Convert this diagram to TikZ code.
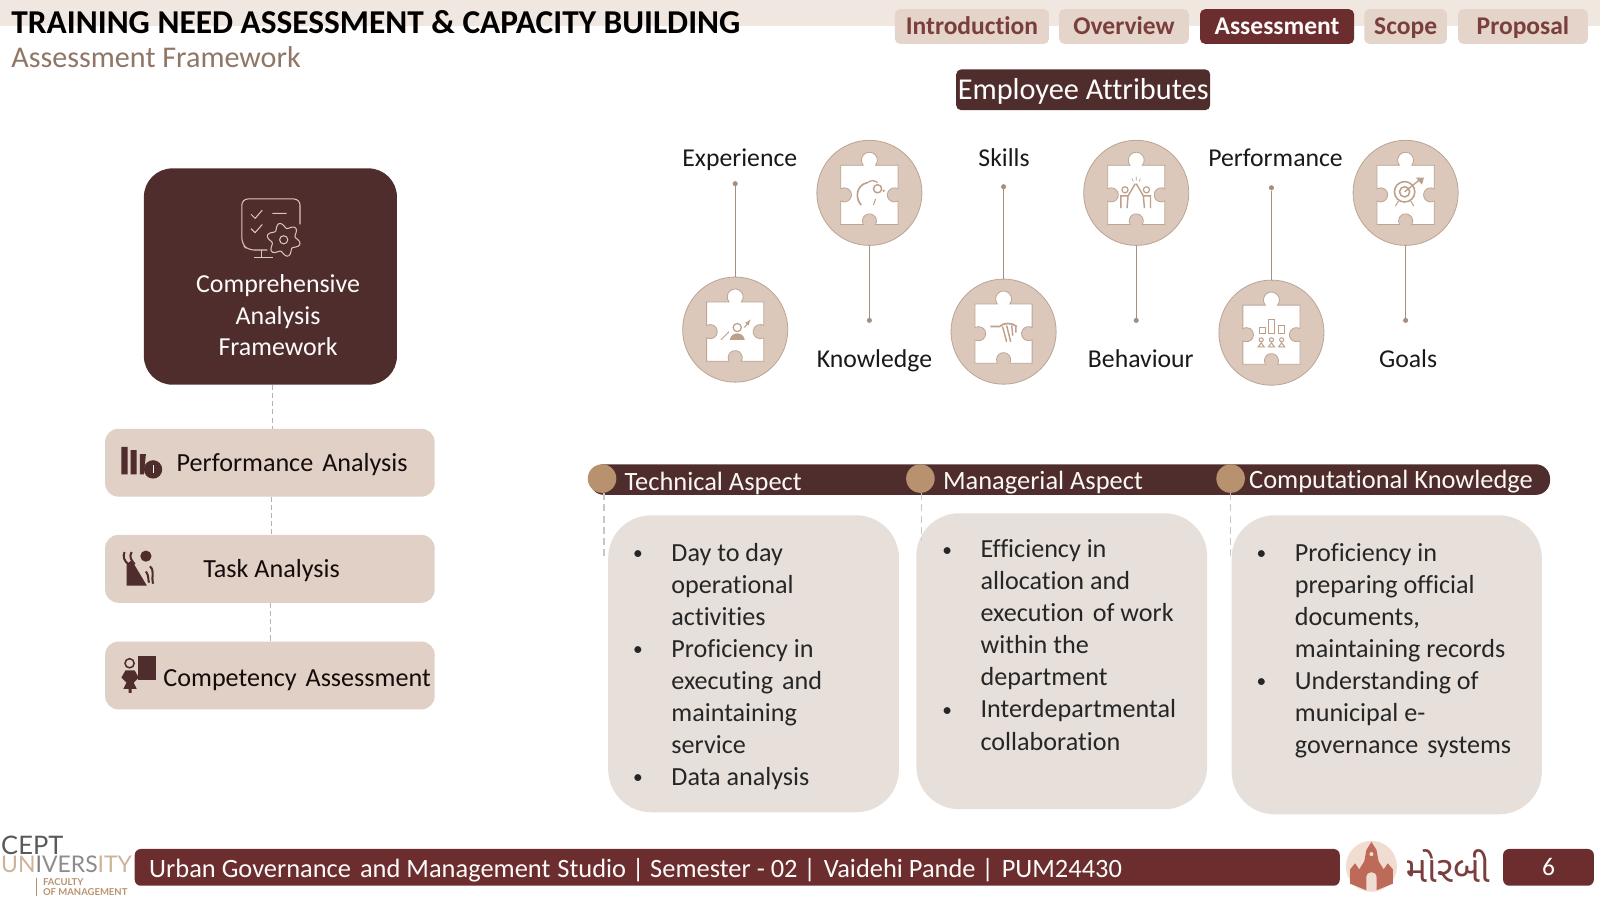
\documentclass[tikz,border=0pt]{standalone}
\usepackage{fontspec}
\setmainfont{Carlito}[Ligatures=NoCommon]
\newfontfamily\gujfont[Script=Gujarati]{Noto Sans Gujarati UI}
\newfontfamily\logofont{Lato}
\usetikzlibrary{shapes,arrows,positioning,fit,backgrounds}

\definecolor{darkbrown}{HTML}{4F2D2D}
\definecolor{maroon}{HTML}{6C2D2E}
\definecolor{tabfill}{HTML}{E4D4C9}
\definecolor{tabtext}{HTML}{7A3F3C}
\definecolor{beige}{HTML}{E1D0C5}
\definecolor{cardfill}{HTML}{E6DFDA}
\definecolor{discfill}{HTML}{DCC8BA}
\definecolor{discline}{HTML}{BBA593}
\definecolor{tan}{HTML}{B8926F}
\definecolor{stemcol}{HTML}{A68F7E}
\definecolor{iconcol}{HTML}{BE9F8A}
\definecolor{subcol}{HTML}{8F7666}
\definecolor{morbidisc}{HTML}{F1DCD2}
\definecolor{palace}{HTML}{BD6A58}

\newcommand{\txt}[1]{\fontsize{#1}{#1}\selectfont}
\newcommand{\bul}{\llap{\raisebox{1.5pt}{\txt{19}•}\hspace{28pt}}}

\tikzset{
    puzzle/.pic={
        \draw[fill=white, draw=discline, line width=0.8pt]
            (-28,-27) -- (-6,-27) arc[start angle=140, end angle=400, radius=7.8]
            -- (28,-27) -- (28,-4) arc[start angle=300, end angle=60, radius=6.95]
            -- (28,31) -- (6,31) arc[start angle=30, end angle=-210, radius=6.95]
            -- (-28,31) -- (-28,8) arc[start angle=120, end angle=-120, radius=6.95]
            -- cycle;
    },
    expicon/.pic={
        \draw[iconcol, line width=1.2pt] (2,-2) circle (4);
        \draw[iconcol, fill=iconcol] (-5,10) .. controls (-4,2) and (8,2) .. (9,10) -- cycle;
        \draw[iconcol, line width=1pt, ->, >=latex] (9,-2) -- (15,-10);
        \draw[iconcol, line width=1pt] (-14,10) -- (-6,2);
    },
    knowicon/.pic={
        \draw[iconcol, line width=1.6pt] (-8,12) .. controls (-15,4) and (-12,-8) .. (-2,-10);
        \draw[iconcol, line width=1.4pt] (8,-4) circle (4);
        \draw[iconcol, line width=1.2pt] (-2,-10) .. controls (2,-13) and (6,-12) .. (8,-10);
        \draw[iconcol, line width=1pt] (6,6) -- (4,12);
        \fill[iconcol] (14,-2) circle (1.3);
    },
    skillicon/.pic={
        \draw[iconcol, line width=1.6pt] (-13,-5) -- (-4,-5) .. controls (0,-9) and (8,-9) .. (13,-5);
        \draw[iconcol, line width=1.4pt] (-1,-5) -- (3,10) (3,-6) -- (7,10) (8,-6) -- (9,4) (12,-5) -- (12,1);
    },
    behavicon/.pic={
        \draw[iconcol, line width=1.2pt] (-11,-3) circle (3) (10,-3) circle (3);
        \draw[iconcol, line width=1.4pt] (-15,15) -- (-15,3) -- (-8,3) -- (-1,-9)
            (-9,15) -- (-8,3) (14,15) -- (14,3) -- (7,3) -- (0,-9) (8,15) -- (7,3);
        \draw[iconcol, line width=0.7pt] (-4,-14) -- (-3,-11) (0,-16) -- (0,-12) (4,-14) -- (3,-11);
    },
    perficon/.pic={
        \draw[iconcol, line width=1.3pt] (-12,-5) rectangle (-6,1) (-3,-13) rectangle (3,1) (7,-7) rectangle (13,1);
        \foreach \px in {-10,0,10} {
            \draw[iconcol, line width=1pt] (\px,7) circle (2);
            \draw[iconcol, line width=1pt] (\px-3,14) -- (\px,10) -- (\px+3,14) -- cycle;
        }
    },
    goalicon/.pic={
        \draw[iconcol, line width=1.5pt] (-1,-1) circle (10) (-1,-1) circle (5);
        \draw[iconcol, line width=1.3pt] (-1,-1) -- (14,-13);
        \fill[iconcol] (10,-15) -- (18,-15) -- (16,-8) -- cycle;
        \draw[iconcol, line width=1pt] (-7,8) -- (-10,13) (5,8) -- (8,13);
    }
}

\begin{document}
\begin{tikzpicture}[
    x=1pt, y=-1pt,
    navtab/.style={
        rectangle,
        rounded corners=5pt,
        fill=tabfill,
        text=tabtext,
        font=\txt{25}\bfseries,
        minimum height=34pt,
        text height=16pt,
        text depth=0pt,
        inner sep=0pt,
        outer sep=0pt
    },
    analysisbox/.style={
        rectangle,
        rounded corners=13pt,
        fill=beige,
        minimum width=323pt,
        minimum height=66.5pt,
        outer sep=0pt
    },
    boxlabel/.style={
        text=black!75!darkbrown,
        font=\txt{25.6},
        inner sep=0pt,
        anchor=base west
    },
    attrdisc/.style={
        circle,
        fill=discfill,
        draw=discline,
        line width=0.8pt,
        minimum size=103pt,
        inner sep=0pt
    },
    stemdot/.style={
        circle,
        fill=stemcol,
        minimum size=5pt,
        inner sep=0pt
    },
    stem/.style={
        stemcol,
        line width=1.3pt
    },
    attrlabel/.style={
        text=black!90,
        font=\txt{25.2},
        inner sep=0pt,
        anchor=base
    },
    card/.style={
        rectangle,
        rounded corners=42pt,
        fill=cardfill,
        minimum width=285pt
    },
    cardtext/.style={
        align=left,
        text=black!85,
        font=\fontsize{25.6}{31.4}\selectfont,
        inner sep=0pt
    },
    aspectdot/.style={
        circle,
        fill=tan,
        minimum size=28pt,
        inner sep=0pt
    },
    aspectlabel/.style={
        text=white!94!tan,
        font=\txt{25.9},
        inner sep=0pt,
        anchor=base west
    },
    dashline/.style={
        draw=black!30,
        dash pattern=on 5pt off 3pt,
        line width=1pt
    },
    aspectdash/.style={
        draw=black!22,
        dash pattern=on 7pt off 4pt,
        line width=1.7pt
    },
    footbar/.style={
        rectangle,
        rounded corners=6pt,
        fill=maroon,
        minimum height=36pt
    }
]

\useasboundingbox (0,0) rectangle (1568,882);

% Header
\fill[white!45!tabfill] (0,0) rectangle (1568,25);
\node[anchor=base west, inner sep=0pt, font=\txt{32.7}\bfseries, text=black] (title) at (11,33) {TRAINING NEED ASSESSMENT \& CAPACITY BUILDING};
\node[anchor=base west, inner sep=0pt, font=\txt{29.5}, text=subcol] (subtitle) at (11,66) {Assessment Framework};

% Navigation tabs
\node[navtab, minimum width=151pt] (introtab) at (952.5,26) {Introduction};
\node[navtab, minimum width=127pt, right=10pt of introtab] (overtab) {Overview};
\node[navtab, minimum width=151pt, right=11pt of overtab, fill=maroon, text=white!90!tabfill] (assesstab) {Assessment};
\node[navtab, minimum width=81pt, right=10pt of assesstab] (scopetab) {Scope};
\node[navtab, minimum width=127pt, right=11pt of scopetab] (proptab) {Proposal};

% Left column
\node[rectangle, rounded corners=28pt, fill=darkbrown, minimum width=248pt, minimum height=212pt] (mainbox) at (265,271) {};
\node[align=center, text=white!92!tabfill, font=\fontsize{25.4}{31}\selectfont, inner sep=0pt] (maintext) at (272.5,309) {Comprehensive\\Analysis\\Framework};
\node[analysisbox, below=43pt of mainbox, xshift=-0.5pt] (perfbox) {};
\node[analysisbox, below=37.5pt of perfbox] (taskbox) {};
\node[analysisbox, below=38pt of taskbox] (compbox) {};
\node[boxlabel] (perflabel) at (173,462) {Performance\hspace{3pt} Analysis};
\node[boxlabel] (tasklabel) at (199,565.5) {Task Analysis};
\node[boxlabel] (complabel) at (160,672.5) {Competency\hspace{3pt} Assessment};

% Left connectors
\draw[dashline] (mainbox.south -| 267,0) -- (perfbox.north -| 267,0);
\draw[dashline] (perfbox.south -| 266,0) -- (taskbox.north -| 266,0);
\draw[dashline] (taskbox.south -| 265,0) -- (compbox.north -| 265,0);

% Main box icon
\draw[discfill, line width=1pt, rounded corners=6pt] (262,245) -- (243,245) -- (237,239) -- (237,195) -- (294,195) -- (294,220);
\draw[discfill, line width=1pt] (256,245) -- (256,252) (249,252) -- (268,252);
\draw[discfill, line width=1pt] (246,210) -- (250,214) -- (257,206) (246,224) -- (250,228) -- (257,220) (267,209) -- (281,209);
\draw[discfill, line width=1pt, fill=darkbrown] plot[domain=0:360, samples=61, smooth] ({278+(14+2.5*sin(6*\x))*cos(\x)}, {235+(14+2.5*sin(6*\x))*sin(\x)}) -- cycle;
\draw[discfill, line width=1pt] (278,235) circle (4);

% Analysis box icons
\fill[darkbrown] (119,438) rectangle (125,465) (128,441) rectangle (134,465);
\fill[darkbrown] (137,445) -- (143,445) -- (141,465) -- (137,465) -- cycle;
\fill[darkbrown] (150,460) circle (9);
\draw[white!90!beige, line width=1pt] (150,456) -- (150,464);
\fill[darkbrown] (124,553) -- (129,549) -- (144,574) -- (124,574) -- cycle;
\draw[darkbrown, line width=2pt] (122,541) .. controls (120,546) and (122,550) .. (126,553) (129,541) .. controls (126,546) and (129,549) .. (132,553);
\draw[darkbrown, line width=2pt] (147,555) .. controls (152,560) and (148,564) .. (150,572) (143,560) .. controls (146,564) and (145,568) .. (146,571);
\fill[darkbrown] (143,545) circle (5.5);
\fill[darkbrown] (135,643) rectangle (153,666);
\draw[darkbrown, line width=1.5pt] (127,650) circle (4.5);
\fill[darkbrown] (119,664) -- (123,657) -- (132,657) -- (136,664) -- (131,669) -- (134,675) -- (129,675) -- (129,679) -- (126,679) -- (126,675) -- (121,675) -- (124,669) -- cycle;

% Attribute discs
\node[attrdisc] (expdisc) at (720.5,323) {};
\node[attrdisc] (knowdisc) at (852,189) {};
\node[attrdisc] (skilldisc) at (983.5,325) {};
\node[attrdisc] (behavdisc) at (1113.5,189) {};
\node[attrdisc] (perfdisc) at (1246,326) {};
\node[attrdisc] (goaldisc) at (1377.5,189) {};

\pic at (expdisc) {puzzle};
\pic at (knowdisc) {puzzle};
\pic at (skilldisc) {puzzle};
\pic at (behavdisc) {puzzle};
\pic at (perfdisc) {puzzle};
\pic at (goaldisc) {puzzle};

\pic at (expdisc) {expicon};
\pic at (knowdisc) {knowicon};
\pic at (skilldisc) {skillicon};
\pic at (behavdisc) {behavicon};
\pic at (perfdisc) {perficon};
\pic at (goaldisc) {goalicon};

% Stems
\node[stemdot] (expdot) at (720.5,180) {};
\node[stemdot] (knowdot) at (852,314) {};
\node[stemdot] (skilldot) at (983.5,183) {};
\node[stemdot] (behavdot) at (1113.5,314) {};
\node[stemdot] (perfdot) at (1246,184) {};
\node[stemdot] (goaldot) at (1377.5,314) {};

\draw[stem] (expdot) -- (expdisc);
\draw[stem] (knowdisc) -- (knowdot);
\draw[stem] (skilldot) -- (skilldisc);
\draw[stem] (behavdisc) -- (behavdot);
\draw[stem] (perfdot) -- (perfdisc);
\draw[stem] (goaldisc) -- (goaldot);

% Attribute labels
\node[rectangle, rounded corners=5pt, fill=darkbrown, minimum width=249pt, minimum height=40pt, inner sep=0pt, text=white!95!tabfill, text height=20pt, text depth=0pt, font=\txt{29.7}] (attrhead) at (1061.5,88) {Employee Attributes};
\node[attrlabel] (explabel) at (725,163) {Experience};
\node[attrlabel] (skilllabel) at (984,163) {Skills};
\node[attrlabel] (perflbl) at (1250,163) {Performance};
\node[attrlabel] (knowlabel) at (857,360) {Knowledge};
\node[attrlabel] (behavlabel) at (1118,360) {Behaviour};
\node[attrlabel] (goallabel) at (1380,360) {Goals};

% Aspect band
\fill[darkbrown, rounded corners=14pt] (578,455) rectangle (1519,485);
\node[aspectdot] (techdot) at (590,469) {};
\node[aspectdot] (mandot) at (902,469) {};
\node[aspectdot] (compdot) at (1206,469) {};
\node[aspectlabel] (techlabel) at (612,480.5) {Technical Aspect};
\node[aspectlabel] (manlabel) at (924,479.5) {Managerial Aspect};
\node[aspectlabel] (comptlabel) at (1224,478.5) {Computational Knowledge};

% Cards
\node[card, minimum height=291pt] (techcard) at (738.5,650.5) {};
\node[card, minimum height=290pt] (mancard) at (1040.5,648) {};
\node[card, minimum width=304pt, minimum height=293pt] (compcard) at (1359,651.5) {};

\draw[aspectdash] (techdot.south -| 592,0) -- (592,548);
\draw[aspectdash] (mandot.south -| 903,0) -- (903,530);
\draw[aspectdash] (compdot.south -| 1206,0) -- (1206,548);

\node[cardtext, below right=27pt and 62pt of techcard.north west] (techtext) {%
\bul Day to day\\operational\\activities\\
\bul Proficiency in\\executing\hspace{3pt} and\\maintaining\\service\\
\bul Data analysis};
\node[cardtext, below right=26pt and 63pt of mancard.north west] (mantext) {%
\bul Efficiency in\\allocation and\\execution\hspace{3pt} of work\\within the\\department\\
\bul Interdepartmental\\collaboration};
\node[cardtext, below right=27.5pt and 62pt of compcard.north west] (comptext) {%
\bul Proficiency in\\preparing official\\documents,\\maintaining records\\
\bul Understanding of\\municipal e-\\governance\hspace{3pt} systems};

% Footer
\node[footbar, minimum width=1181pt] (footmain) at (722.5,850) {};
\node[footbar, minimum width=89pt, text=white!90!tabfill, font=\txt{25}] (footpage) at (1517.5,850) {6};
\node[anchor=base west, inner sep=0pt, text=white!90!tabfill, font=\txt{25.9}] (foottext) at (146,859.5) {Urban Governance\hspace{3pt} and Management\hspace{1pt} Studio | Semester - 02 |\hspace{2pt} Vaidehi Pande |\hspace{2pt} PUM24430};

% Morbi logo
\node[circle, fill=morbidisc, minimum size=50pt, inner sep=0pt] (morbilogo) at (1344,849) {};
\fill[palace] (1323,866) -- (1323,852) -- (1328,846) -- (1332,852) -- (1337,844) -- (1339,833) -- (1344,825) -- (1349,833) -- (1351,844) -- (1356,852) -- (1360,846) -- (1365,852) -- (1365,866) -- (1350,872) -- (1338,872) -- cycle;
\fill[morbidisc] (1339,872) -- (1339,860) .. controls (1339,853) and (1349,853) .. (1349,860) -- (1349,872) -- cycle;
\fill[morbidisc] (1344,837) circle (2);
\node[anchor=west, inner sep=0pt, text=tabtext, font=\gujfont\fontsize{36}{40}\selectfont] (morbitext) at (1377,849) {મોરબી};

% CEPT logo
\node[anchor=north west, align=left, inner sep=0pt, font=\logofont\fontsize{25}{18}\selectfont, text=black!65] (ceptname) at (1,819) {CEPT\\{\fontsize{22.5}{18}\selectfont\textcolor{tan!70}{UN}\textcolor{black!50}{I}\textcolor{black!45}{VERS}\textcolor{tan!70}{ITY}}};
\node[anchor=north west, align=left, inner sep=0pt, font=\logofont\bfseries\fontsize{9.3}{9.8}\selectfont, text=tan] (ceptfac) at (42,861) {FACULTY\\OF MANAGEMENT};
\draw[tan, line width=1pt] (36,860) -- (36,878);

\end{tikzpicture}
\end{document}
